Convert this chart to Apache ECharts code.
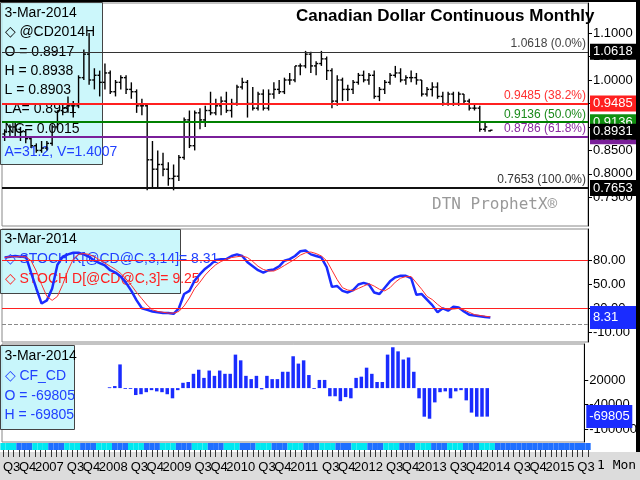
<!DOCTYPE html>
<html><head><meta charset="utf-8">
<script src="https://cdn.jsdelivr.net/npm/echarts@6/dist/echarts.min.js"></script>
<style>html,body{margin:0;padding:0;background:#fff}#c{width:640px;height:480px}</style>
</head><body><div id="c"></div>
<script>
// categories: months Jul 2006 .. Sep 2015
const months = [];
const startYear = 2006;
for (let k = 0; k < 111; k++) { const m = (6 + k) % 12; const y = startYear + Math.floor((6 + k) / 12); months.push(y + '-' + (m + 1)); }

const priceOpen = [.885,.890,.900,.895,.890,.875,.860,.850,.855,.865,.900,.935,.940,.945,.945,1.005,1.055,1.000,1.010,.995,1.015,.975,.995,1.005,.980,.975,.945,.945,.830,.810,.820,.810,.790,.795,.835,.915,.860,.930,.915,.935,.930,.945,.955,.935,.950,.985,.995,.950,.940,.970,.940,.970,.980,.975,1.000,1.000,1.030,1.030,1.055,1.030,1.035,1.045,1.020,.955,1.000,.980,.980,.995,1.010,1.000,1.010,.965,.980,.995,1.010,1.015,1.000,1.005,1.005,1.000,.970,.980,.985,.965,.950,.970,.950,.970,.955,.940,.940,.895,.8917];
const priceHigh = [.895,.905,.910,.900,.895,.880,.865,.870,.870,.905,.935,.950,.965,.955,1.010,1.065,1.100,1.025,1.020,1.035,1.020,1.000,1.010,1.010,.995,.980,.960,.950,.870,.850,.845,.825,.820,.840,.920,.935,.935,.940,.945,.975,.960,.965,.975,.960,.990,1.005,1.000,.985,.975,.980,.980,.995,1.000,1.005,1.015,1.030,1.035,1.062,1.060,1.040,1.062,1.050,1.025,1.010,1.005,.990,1.000,1.015,1.020,1.015,1.020,.985,1.000,1.015,1.030,1.025,1.010,1.020,1.015,1.000,.985,.995,.995,.975,.975,.975,.975,.970,.960,.950,.945,.910,.8938];
const priceLow = [.870,.880,.880,.870,.865,.855,.845,.845,.850,.860,.895,.925,.930,.920,.940,1.000,.990,.980,.965,.980,.970,.965,.980,.970,.960,.930,.925,.765,.770,.770,.795,.775,.765,.785,.830,.855,.850,.895,.900,.925,.925,.925,.930,.920,.945,.980,.920,.935,.935,.935,.935,.960,.970,.970,.990,.995,1.010,1.025,1.015,1.010,1.030,1.000,.940,.945,.955,.955,.970,.990,.995,.990,.960,.955,.970,.990,1.005,.995,.990,.995,.990,.965,.965,.965,.960,.945,.945,.945,.945,.950,.935,.935,.890,.890,.8903];
const priceClose = [.890,.900,.895,.890,.875,.860,.850,.855,.865,.900,.935,.940,.945,.945,1.005,1.055,1.000,1.010,.995,1.015,.975,.995,1.005,.980,.975,.945,.945,.830,.810,.820,.810,.790,.795,.835,.915,.860,.930,.915,.935,.930,.945,.955,.935,.950,.985,.995,.950,.940,.970,.940,.970,.980,.975,1.000,1.000,1.030,1.030,1.055,1.030,1.035,1.045,1.020,.955,1.000,.980,.980,.995,1.010,1.000,1.010,.965,.980,.995,1.010,1.015,1.000,1.005,1.005,1.000,.970,.980,.985,.965,.950,.970,.950,.970,.955,.940,.940,.895,.900,.8931];

const stochK = [84,85,86,85,86,65,45,26,30,45,75,85,88,90,90,88,85,80,77,74,68,65,60,52,42,30,20,18,16,15,14,14,13,20,38,42,55,63,70,75,81,82,82,86,88,86,78,73,68,65,68,69,73,80,82,86,92,93,88,86,84,72,47,48,42,40,43,50,52,50,40,38,46,54,59,61,61,58,37,38,31,24,15,20,17,22,21,16,12,11,10,9,8.31];
const stochD = [84,85,85,85,85,80,67,50,35,30,35,50,68,82,88,89,88,85,81,77,73,69,64,57,49,40,32,24,18,16,15,14,14,16,23,33,45,53,62,69,75,79,82,84,85,86,84,79,73,69,67,67,70,74,78,82,87,90,91,89,86,80,68,56,46,43,42,45,48,51,48,44,42,46,53,58,60,60,52,44,35,31,25,20,19,19,20,18,15,12,11,10,9.25];
const cotStart = 20;
const cotNet = [2000,5000,58000,-2000,-2000,-17000,-15000,-10000,-5000,-8000,-10000,-15000,-25000,-5000,13000,15000,35000,45000,25000,43000,30000,43000,35000,35000,82000,68000,30000,22000,30000,-3000,30000,22000,22000,40000,40000,78000,60000,68000,32000,-2000,20000,20000,-20000,-20000,-32000,-22000,-25000,25000,28000,50000,35000,15000,15000,82000,100000,90000,70000,75000,40000,-25000,-70000,-75000,-35000,-10000,-8000,-25000,-8000,-5000,-30000,-60000,-70000,-70000,-69805];

const fibLevels = [1.0618, 0.9485, 0.9136, 0.8786, 0.7653];
const fibPct = ['0.0%', '38.2%', '50.0%', '61.8%', '100.0%'];
const fibColors = ['#333', '#ff2020', '#008000', '#7a1f9a', '#111'];
const fibBadge = ['#000', '#ff2020', '#109010', '#7a1f9a', '#000'];
const fibTextColors = ['#444', '#ff3030', '#1a8a1a', '#8a2aa0', '#333'];
const lastPrice = 0.8931;
const priceTicks = [1.1, 1.05, 1.0, 0.95, 0.9, 0.85, 0.8, 0.75];
const stochTicks = [80, 50, 20, -10];
const stochLevels = [80, 20];
const cotTicks = [20000, -40000, -100000];

const FONT = '"Liberation Sans Narrow","Liberation Sans",Arial,sans-serif';

const priceData = priceClose.map((c, i) => [i, priceOpen[i], priceHigh[i], priceLow[i], c]);
const cotData = months.map((m, i) => (i >= cotStart && i - cotStart < cotNet.length) ? cotNet[i - cotStart] : null);
const stripData = months.map(() => 1);

function badge(color, text, pad) {
  return { show: true, position: 'end', distance: 2, formatter: text, color: '#fff', backgroundColor: color,
    padding: pad || [2, 3, 1, 3], fontFamily: FONT, fontSize: 13, width: 40, align: 'left' };
}
const hiddenLine = { color: 'rgba(0,0,0,0)', width: 1, type: 'solid' };

const fibMarks = fibLevels.map((v, i) => ({ yAxis: v, lineStyle: { color: fibColors[i], width: i === 0 ? 1 : 2, type: 'solid' },
  label: { show: true, position: 'insideEndTop', formatter: v.toFixed(4) + ' (' + fibPct[i] + ')', color: fibTextColors[i], fontFamily: FONT, fontSize: 12, distance: 2 } }));
const badgeMarks = fibLevels.map((v, i) => ({ yAxis: v, lineStyle: hiddenLine, label: badge(fibBadge[i], v.toFixed(4)) }));
badgeMarks.push({ yAxis: lastPrice, lineStyle: hiddenLine, label: badge('#000', lastPrice.toFixed(4)) });

function ohlc(params, api) {
  const x = api.value(0);
  const pH = api.coord([x, api.value(2)]), pL = api.coord([x, api.value(3)]);
  const pO = api.coord([x, api.value(1)]), pC = api.coord([x, api.value(4)]);
  const st = { stroke: '#000', lineWidth: 1.4 };
  return { type: 'group', children: [
    { type: 'line', shape: { x1: pH[0], y1: pH[1], x2: pL[0], y2: pL[1] }, style: st },
    { type: 'line', shape: { x1: pO[0] - 2.2, y1: pO[1], x2: pO[0], y2: pO[1] }, style: st },
    { type: 'line', shape: { x1: pC[0], y1: pC[1], x2: pC[0] + 2.2, y2: pC[1] }, style: st }
  ] };
}

const L = 2, R = 52;
const yAxisBase = (gi, min, max, ticks, fmt) => ({
  type: 'value', gridIndex: gi, position: 'right', min: min, max: max, scale: true,
  splitLine: { show: false },
  axisLine: { show: true, lineStyle: { color: '#000' } },
  axisTick: { show: true, length: 4, customValues: ticks, lineStyle: { color: '#000' } },
  axisLabel: { customValues: ticks, formatter: fmt, color: '#000', fontFamily: FONT, fontSize: 13, margin: 5 }
});
const xHidden = gi => ({ type: 'category', gridIndex: gi, data: months, show: false, boundaryGap: true });

function quarterLabel(v, i) {
  const m = i % 12; // 0 = Jul
  if (m === 0) return 'Q3';
  if (m === 3) return 'Q4';
  if (m === 6) return String(startYear + Math.floor((6 + i) / 12));
  return '';
}

const chart = echarts.init(document.getElementById('c'), null, { renderer: 'canvas' });
chart.setOption({
  animation: false,
  backgroundColor: '#fff',
  grid: [
    { left: L, right: R, top: 3, height: 223, show: true, borderColor: '#888', backgroundColor: '#fff' },
    { left: L, right: R, top: 229, height: 113, show: true, borderColor: '#888' },
    { left: L, right: R, top: 344, height: 98, show: true, borderColor: '#888' },
    { left: L, right: R, top: 443, height: 7, show: false }
  ],
  xAxis: [xHidden(0), xHidden(1), xHidden(2), {
    type: 'category', gridIndex: 3, data: months, boundaryGap: false, position: 'bottom',
    axisLine: { show: false },
    axisTick: { show: true, interval: 0, length: 7, inside: false, lineStyle: { color: '#333' } },
    axisLabel: { interval: 0, formatter: quarterLabel, color: '#000', fontFamily: FONT, fontSize: 13, align: 'left', margin: 11, hideOverlap: false }
  }],
  yAxis: [
    yAxisBase(0, 0.689, 1.164, priceTicks, v => v.toFixed(4)),
    yAxisBase(1, -22.5, 120, stochTicks, v => v.toFixed(2)),
    yAxisBase(2, -132000, 108000, cotTicks, v => String(v)),
    { type: 'value', gridIndex: 3, show: false, min: 0, max: 1 }
  ],
  graphic: [
    { type: 'rect', shape: { x: 0, y: 452, width: 640, height: 28 }, style: { fill: '#dcdcdc' }, z: -1 },
    { type: 'rect', shape: { x: 0, y: 0, width: 640, height: 2 }, style: { fill: '#000' } },
    { type: 'rect', shape: { x: 636, y: 0, width: 4, height: 452 }, style: { fill: '#000' } },
    { type: 'text', left: 296, top: 8, style: { text: 'Canadian Dollar Continuous Monthly', font: 'bold 17px ' + FONT, fill: '#000' } },
    { type: 'text', left: 432, top: 197, style: { text: 'DTN ProphetX®', font: '16px "DejaVu Sans Mono",monospace', fill: '#999' } },
    { type: 'text', left: 597, top: 459, style: { text: '1 Mon', font: '13px "DejaVu Sans Mono",monospace', fill: '#000' } },
    { type: 'group', left: 0, top: 2, z: 100, children: [
      { type: 'rect', shape: { x: 0, y: 0, width: 102, height: 162 }, style: { fill: 'rgba(190,245,250,0.78)', stroke: '#444' } },
      { type: 'text', x: 4, y: 4, style: { text: '3-Mar-2014', font: '14px ' + FONT, fill: '#000' } },
      { type: 'text', x: 4, y: 23, style: { text: '◇ @CD2014H', font: '14px ' + FONT, fill: '#000' } },
      { type: 'text', x: 4, y: 43, style: { text: 'O = 0.8917', font: '14px ' + FONT, fill: '#000' } },
      { type: 'text', x: 4, y: 62, style: { text: 'H = 0.8938', font: '14px ' + FONT, fill: '#000' } },
      { type: 'text', x: 4, y: 81, style: { text: 'L = 0.8903', font: '14px ' + FONT, fill: '#000' } },
      { type: 'text', x: 4, y: 100, style: { text: 'LA= 0.8931', font: '14px ' + FONT, fill: '#000' } },
      { type: 'text', x: 4, y: 120, style: { text: 'NC= 0.0015', font: '14px ' + FONT, fill: '#000' } },
      { type: 'text', x: 4, y: 143, style: { text: 'A=31.2, V=1.4007', font: '14px ' + FONT, fill: '#2040ff' } }
    ] },
    { type: 'group', left: 0, top: 229, z: 100, children: [
      { type: 'rect', shape: { x: 0, y: 0, width: 180, height: 64 }, style: { fill: 'rgba(190,245,250,0.8)', stroke: '#444' } },
      { type: 'text', x: 4, y: 3, style: { text: '3-Mar-2014', font: '14px ' + FONT, fill: '#000' } },
      { type: 'text', x: 4, y: 23, style: { text: '◇ STOCH K[@CD@C,3,14]= 8.31', font: '14px ' + FONT, fill: '#2040ff' } },
      { type: 'text', x: 4, y: 43, style: { text: '◇ STOCH D[@CD@C,3]= 9.25', font: '14px ' + FONT, fill: '#ff2020' } }
    ] },
    { type: 'group', left: 0, top: 345, z: 100, children: [
      { type: 'rect', shape: { x: 0, y: 0, width: 74, height: 84 }, style: { fill: 'rgba(190,245,250,0.85)', stroke: '#444' } },
      { type: 'text', x: 4, y: 4, style: { text: '3-Mar-2014', font: '14px ' + FONT, fill: '#000' } },
      { type: 'text', x: 4, y: 24, style: { text: '◇ CF_CD_NN', font: '14px ' + FONT, fill: '#2040ff', width: 70, overflow: 'truncate', ellipsis: '' } },
      { type: 'text', x: 4, y: 44, style: { text: 'O = -69805', font: '14px ' + FONT, fill: '#2040ff' } },
      { type: 'text', x: 4, y: 63, style: { text: 'H = -69805', font: '14px ' + FONT, fill: '#2040ff' } }
    ] }
  ],
  series: [
    { type: 'custom', xAxisIndex: 0, yAxisIndex: 0, renderItem: ohlc, data: priceData, encode: { x: 0, y: [1, 2, 3, 4] },
      markLine: { silent: true, symbol: 'none', data: fibMarks } },
    { type: 'line', xAxisIndex: 0, yAxisIndex: 0, data: [], markLine: { silent: true, symbol: 'none', data: badgeMarks } },
    { type: 'line', xAxisIndex: 1, yAxisIndex: 1, data: stochK, showSymbol: false, lineStyle: { color: '#1a2cff', width: 2.5 },
      markLine: { silent: true, symbol: 'none', data: [
        ...stochLevels.map(v => ({ yAxis: v, lineStyle: { color: '#ff2020', width: 1.2, type: 'solid' }, label: { show: false } })),
        { yAxis: 0, lineStyle: { color: '#888', width: 1, type: 'dashed' }, label: { show: false } },
        { yAxis: 8.31, lineStyle: hiddenLine, label: badge('#1a2cff', '8.31', [5, 3, 5, 3]) }
      ] } },
    { type: 'line', xAxisIndex: 1, yAxisIndex: 1, data: stochD, showSymbol: false, lineStyle: { color: '#ff3030', width: 1 } },
    { type: 'bar', xAxisIndex: 2, yAxisIndex: 2, data: cotData, barWidth: 3.5, itemStyle: { color: '#1a2cff' },
      markLine: { silent: true, symbol: 'none', data: [
        { yAxis: -69805, lineStyle: hiddenLine, label: badge('#1a2cff', '-69805', [5, 3, 5, 3]) }
      ] } },
    { type: 'bar', xAxisIndex: 3, yAxisIndex: 3, data: stripData, barCategoryGap: 0, silent: true,
      itemStyle: { color: p => (p.dataIndex < 93 && Math.floor(p.dataIndex / 3) % 2 === 0) ? '#00e8f0' : '#1f6fff' } }
  ]
});
</script></body></html>
